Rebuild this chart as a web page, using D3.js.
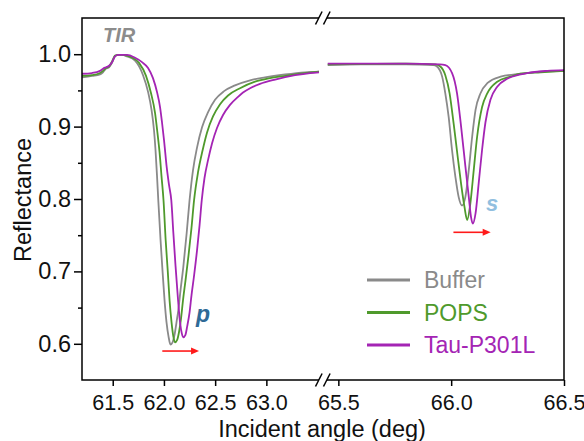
<!DOCTYPE html>
<html><head><meta charset="utf-8">
<script src="https://cdn.jsdelivr.net/npm/d3@7"></script>
<style>
body{margin:0;background:#fff}
text{font-family:"Liberation Sans",Arial,Helvetica,sans-serif}
</style>
</head><body>
<svg id="c" width="584" height="441"></svg>
<script>
// ---------------- DATA ----------------
const seriesNames = ["Buffer", "POPS", "Tau-P301L"];
const seriesColors = ["#8a8a8a", "#4f9a2c", "#a424b4"];

const xTicksLeft = [61.5, 62.0, 62.5, 63.0];
const xTicksRight = [65.5, 66.0, 66.5];
const yTicks = [0.6, 0.7, 0.8, 0.9, 1.0];
const yMinorTicks = [0.65, 0.75, 0.85, 0.95];

// p-polarised dip (left axis segment): [angle (deg), reflectance]
const bufferP = [[61.200,0.968],[61.298,0.970],[61.376,0.972],[61.405,0.975],[61.434,0.980],[61.464,0.982],[61.493,0.988],[61.522,0.997],[61.552,0.999],[61.591,0.999],[61.640,0.997],[61.718,0.991],[61.796,0.971],[61.845,0.948],[61.879,0.923],[61.903,0.895],[61.918,0.867],[61.932,0.833],[61.945,0.798],[61.967,0.743],[61.986,0.701],[62.006,0.660],[62.025,0.630],[62.045,0.610],[62.064,0.599],[62.084,0.602],[62.103,0.612],[62.123,0.630],[62.140,0.646],[62.162,0.674],[62.189,0.706],[62.222,0.753],[62.250,0.798],[62.284,0.840],[62.323,0.871],[62.372,0.899],[62.431,0.920],[62.499,0.937],[62.587,0.949],[62.694,0.957],[62.841,0.964],[62.987,0.968],[63.182,0.972],[63.378,0.975],[63.514,0.976]];
const popsP = [[61.200,0.970],[61.298,0.971],[61.376,0.974],[61.405,0.977],[61.434,0.981],[61.464,0.983],[61.493,0.990],[61.522,0.998],[61.552,0.999],[61.591,0.999],[61.640,0.998],[61.679,0.996],[61.757,0.988],[61.825,0.970],[61.874,0.946],[61.913,0.919],[61.937,0.891],[61.957,0.865],[61.976,0.832],[61.996,0.798],[62.017,0.743],[62.037,0.701],[62.055,0.660],[62.074,0.630],[62.092,0.610],[62.108,0.602],[62.128,0.605],[62.147,0.616],[62.167,0.635],[62.186,0.660],[62.211,0.688],[62.240,0.722],[62.269,0.760],[62.294,0.798],[62.333,0.837],[62.377,0.867],[62.421,0.892],[62.479,0.914],[62.548,0.931],[62.626,0.943],[62.743,0.953],[62.889,0.962],[63.036,0.967],[63.231,0.971],[63.378,0.974],[63.514,0.976]];
const tauP = [[61.200,0.973],[61.298,0.974],[61.376,0.977],[61.405,0.980],[61.434,0.982],[61.464,0.984],[61.493,0.989],[61.522,0.997],[61.552,0.999],[61.591,0.999],[61.640,0.999],[61.718,0.995],[61.786,0.989],[61.845,0.981],[61.893,0.967],[61.932,0.948],[61.962,0.927],[61.981,0.906],[62.001,0.881],[62.027,0.844],[62.050,0.819],[62.072,0.798],[62.092,0.753],[62.113,0.708],[62.136,0.664],[62.157,0.630],[62.175,0.614],[62.189,0.609],[62.209,0.612],[62.227,0.624],[62.250,0.643],[62.269,0.667],[62.294,0.694],[62.323,0.729],[62.348,0.764],[62.369,0.798],[62.396,0.829],[62.431,0.854],[62.470,0.877],[62.518,0.898],[62.577,0.916],[62.645,0.930],[62.723,0.941],[62.772,0.947],[62.841,0.953],[62.938,0.959],[63.085,0.965],[63.280,0.971],[63.427,0.974],[63.514,0.975]];

// s-polarised dip (right axis segment)
const bufferS = [[65.453,0.985],[65.600,0.986],[65.800,0.986],[65.921,0.985],[65.937,0.983],[65.960,0.969],[65.974,0.946],[65.989,0.913],[66.004,0.867],[66.019,0.830],[66.033,0.803],[66.048,0.791],[66.063,0.803],[66.078,0.840],[66.093,0.886],[66.108,0.923],[66.130,0.946],[66.160,0.960],[66.219,0.969],[66.308,0.973],[66.396,0.976],[66.500,0.977]];
const popsS = [[65.453,0.986],[65.800,0.987],[65.930,0.986],[65.952,0.983],[65.974,0.971],[65.993,0.946],[66.011,0.904],[66.029,0.858],[66.044,0.821],[66.059,0.789],[66.071,0.771],[66.085,0.794],[66.100,0.840],[66.115,0.886],[66.137,0.927],[66.160,0.946],[66.204,0.962],[66.263,0.969],[66.308,0.973],[66.396,0.975],[66.500,0.977]];
const tauS = [[65.453,0.987],[65.800,0.987],[65.950,0.986],[65.974,0.985],[66.004,0.974],[66.026,0.946],[66.044,0.900],[66.063,0.845],[66.078,0.803],[66.088,0.775],[66.096,0.766],[66.108,0.780],[66.122,0.822],[66.137,0.868],[66.152,0.906],[66.174,0.937],[66.204,0.955],[66.248,0.966],[66.308,0.972],[66.337,0.974],[66.426,0.977],[66.500,0.978]];

// annotation arrows: [x0, x1, y]
const arrowP = [61.984, 62.343, 0.590];
const arrowS = [66.010, 66.175, 0.754];

// ---------------- CHART ----------------
const svg = d3.select("#c");
const L = 82, R = 564, T = 18, B = 380, BRK = 323;

const xL = d3.scaleLinear().domain([61.2, 63.553]).range([L, BRK]);
const xR = d3.scaleLinear().domain([65.432, 66.5]).range([BRK, R]);
const y = d3.scaleLinear().domain([0.55, 1.05]).range([B, T]);

const FONT = "Liberation Sans, Arial, sans-serif";

// curves
const lineL = d3.line().x(d => xL(d[0])).y(d => y(d[1])).curve(d3.curveMonotoneX);
const lineR = d3.line().x(d => xR(d[0])).y(d => y(d[1])).curve(d3.curveMonotoneX);
const leftSets = [bufferP, popsP, tauP];
const rightSets = [bufferS, popsS, tauS];
const gCurves = svg.append("g");
leftSets.forEach((s, i) => gCurves.append("path").attr("d", lineL(s)).attr("fill", "none")
  .attr("stroke", seriesColors[i]).attr("stroke-width", 1.8).attr("stroke-linejoin", "round"));
rightSets.forEach((s, i) => gCurves.append("path").attr("d", lineR(s)).attr("fill", "none")
  .attr("stroke", seriesColors[i]).attr("stroke-width", 1.8).attr("stroke-linejoin", "round"));

// box
svg.append("rect").attr("x", L).attr("y", T).attr("width", R - L).attr("height", B - T)
  .attr("fill", "none").attr("stroke", "#000").attr("stroke-width", 1.5);

// axes
function styleAxis(size) {
  return g => {
    g.select(".domain").remove();
    g.selectAll("line").attr("stroke", "#000").attr("stroke-width", 1.5);
    g.selectAll("text").attr("font-family", FONT).attr("font-size", size).attr("fill", "#111");
  };
}
const fmt = d3.format(".1f");
svg.append("g").attr("transform", `translate(0,${B})`)
  .call(d3.axisBottom(xL).tickValues(xTicksLeft).tickSize(6).tickPadding(9).tickFormat(fmt)).call(styleAxis(21.5));
svg.append("g").attr("transform", `translate(0,${B})`)
  .call(d3.axisBottom(xR).tickValues(xTicksRight).tickSize(6).tickPadding(9).tickFormat(fmt)).call(styleAxis(21.5));
svg.append("g").attr("transform", `translate(${L},0)`)
  .call(d3.axisLeft(y).tickValues(yTicks).tickSize(8).tickPadding(3).tickFormat(fmt)).call(styleAxis(23.5));
svg.append("g").attr("transform", `translate(${L},0)`)
  .call(d3.axisLeft(y).tickValues(yMinorTicks).tickSize(4).tickFormat("")).call(styleAxis(23.5));

// axis break marks
[T, B].forEach(yy => {
  svg.append("rect").attr("x", BRK - 4).attr("y", yy - 2).attr("width", 8).attr("height", 4).attr("fill", "#fff");
  [BRK - 4.2, BRK + 3.8].forEach(cx => {
    svg.append("line").attr("x1", cx - 3.3).attr("y1", yy + 6.5).attr("x2", cx + 3.3).attr("y2", yy - 6.5)
      .attr("stroke", "#000").attr("stroke-width", 1.5);
  });
});

// axis titles
svg.append("text").attr("x", 322).attr("y", 437).attr("text-anchor", "middle")
  .attr("font-family", FONT).attr("font-size", 23.5).attr("fill", "#111").text("Incident angle (deg)");
svg.append("text").attr("transform", "translate(31,200) rotate(-90)").attr("text-anchor", "middle")
  .attr("font-family", FONT).attr("font-size", 23.5).attr("fill", "#111").text("Reflectance");

// annotations
svg.append("text").attr("x", 103).attr("y", 42).attr("font-family", FONT).attr("font-size", 20)
  .attr("font-weight", "bold").attr("font-style", "italic").attr("fill", "#8c8c8c").text("TIR");
svg.append("text").attr("x", 196).attr("y", 322).attr("font-family", FONT).attr("font-size", 23)
  .attr("font-weight", "bold").attr("font-style", "italic").attr("fill", "#2f6a96").text("p");
svg.append("text").attr("x", 486).attr("y", 211).attr("font-family", FONT).attr("font-size", 22)
  .attr("font-weight", "bold").attr("font-style", "italic").attr("fill", "#92bfdf").text("s");

function arrow(x0, x1, yy) {
  svg.append("line").attr("x1", x0).attr("y1", yy).attr("x2", x1 - 6).attr("y2", yy)
    .attr("stroke", "#ff1a1a").attr("stroke-width", 1.6);
  svg.append("path").attr("d", `M${x1},${yy} L${x1 - 8},${yy - 3.5} L${x1 - 8},${yy + 3.5} Z`).attr("fill", "#ff1a1a");
}
arrow(xL(arrowP[0]), xL(arrowP[1]), y(arrowP[2]));
arrow(xR(arrowS[0]), xR(arrowS[1]), y(arrowS[2]));

// legend
const lg = svg.append("g").attr("transform", "translate(367,280)");
seriesNames.forEach((n, i) => {
  const gy = i * 32.5;
  lg.append("line").attr("x1", 0).attr("x2", 43).attr("y1", gy).attr("y2", gy)
    .attr("stroke", seriesColors[i]).attr("stroke-width", 3);
  lg.append("text").attr("x", 57).attr("y", gy + 8).attr("font-family", FONT).attr("font-size", 23)
    .attr("fill", seriesColors[i]).text(n);
});
</script>
</body></html>
